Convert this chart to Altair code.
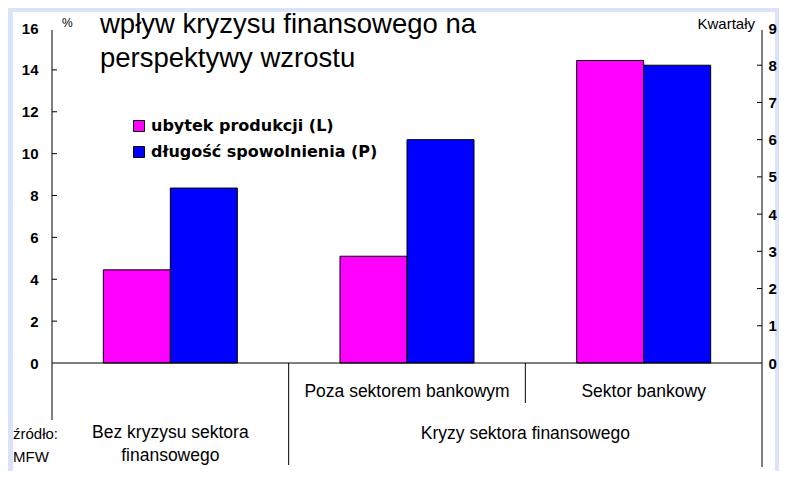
import altair as alt
import pandas as pd

# ---------------- data ----------------
categories = ["Bez kryzysu sektora finansowego", "Poza sektorem bankowym", "Sektor bankowy"]
series_names = ["ubytek produkcji (L)", "\u00a0długość spowolnienia (P)"]
loss_pct = [4.45, 5.1, 14.45]        # left axis, %
slowdown_q = [4.7, 6.0, 8.0]         # right axis, quarters
left_ticks = [0, 2, 4, 6, 8, 10, 12, 14, 16]
right_ticks = [0, 1, 2, 3, 4, 5, 6, 7, 8, 9]
left_inner_ticks = [2, 4, 6, 8, 10, 12, 14]
right_inner_ticks = [1, 2, 3, 4, 5, 6, 7, 8]
level1_labels = ["", "Poza sektorem bankowym", "Sektor bankowy"]
level2_left = "Bez kryzysu sektora\nfinansowego"
level2_right = "Kryzy sektora finansowego"
title_text = "wpływ kryzysu finansowego na\nperspektywy wzrostu"
source_text = "źródło:\nMFW"

FONT = "Liberation Sans"
W, H = 710, 335
LIGHT_BLUE = "#dae3f9"

df_L = pd.DataFrame({"cat": categories, "series": series_names[0], "value": loss_pct})
df_P = pd.DataFrame({"cat": categories, "series": series_names[1], "value": slowdown_q})
one = pd.DataFrame({"a": [0]})

x_scale = alt.Scale(domain=categories, paddingInner=0, paddingOuter=0)
xo_scale = alt.Scale(domain=series_names, paddingInner=0, paddingOuter=0.766)
color = alt.Color(
    "series:N",
    scale=alt.Scale(domain=series_names, range=["#FF00FF", "#0000FF"]),
    legend=alt.Legend(
        title=None, orient="none", legendX=79, legendY=90,
        symbolType="square", symbolSize=121, symbolStrokeColor="black",
        symbolStrokeWidth=1, symbolOpacity=1,
        labelFont="DejaVu Sans", labelFontSize=16, labelFontWeight="bold",
        labelColor="black", labelOffset=4, rowPadding=10, padding=0,
        labelLimit=400, zindex=2,
    ),
)

def X(**kw):
    return alt.X("cat:N", sort=categories, scale=x_scale, axis=None, **kw)

yL_scale = alt.Scale(domain=[0, 16], nice=False, zero=True)
yP_scale = alt.Scale(domain=[0, 9], nice=False, zero=True)

axis_common = dict(domain=False, ticks=False, grid=False, title=None,
                   labelFont=FONT, labelFontSize=15, labelFontWeight="bold",
                   labelColor="black", zindex=2)

# white panel
panel = alt.Chart(one).mark_rect(color="white").encode(
    x=alt.value(-39), x2=alt.value(723), y=alt.value(-16), y2=alt.value(460)
)

bars_L = alt.Chart(df_L).mark_bar(stroke="black", strokeWidth=1, opacity=1).encode(
    x=X(),
    xOffset=alt.XOffset("series:N", sort=series_names, scale=xo_scale),
    y=alt.Y("value:Q", scale=yL_scale,
            axis=alt.Axis(orient="left", values=left_ticks, labelPadding=14, **axis_common)),
    color=color,
)

bars_P = alt.Chart(df_P).mark_bar(stroke="black", strokeWidth=1, opacity=1).encode(
    x=X(),
    xOffset=alt.XOffset("series:N", sort=series_names, scale=xo_scale),
    y=alt.Y("value:Q", scale=yP_scale,
            axis=alt.Axis(orient="right", values=right_ticks, labelPadding=6, **axis_common)),
    color=color,
)

ticks_L = alt.Chart(pd.DataFrame({"v": left_inner_ticks})).mark_rule(color="black").encode(
    y=alt.Y("v:Q", scale=yL_scale, axis=None), x=alt.value(0), x2=alt.value(5)
)
ticks_P = alt.Chart(pd.DataFrame({"v": right_inner_ticks})).mark_rule(color="black").encode(
    y=alt.Y("v:Q", scale=yP_scale, axis=None), x=alt.value(W - 5), x2=alt.value(W)
)

baseline = alt.Chart(pd.DataFrame({"v": [0]})).mark_rule(color="black").encode(
    y=alt.Y("v:Q", scale=yL_scale, axis=None), x=alt.value(0), x2=alt.value(W)
)
axis_line_L = alt.Chart(one).mark_rule(color="black").encode(
    x=alt.value(0), y=alt.value(2), y2=alt.value(392)
)
axis_line_R = alt.Chart(one).mark_rule(color="black").encode(
    x=alt.value(W), y=alt.value(2), y2=alt.value(439)
)

sep1 = alt.Chart(pd.DataFrame({"cat": [categories[1]]})).mark_rule(color="black").encode(
    x=X(bandPosition=0), y=alt.value(H), y2=alt.value(437)
)
sep2 = alt.Chart(pd.DataFrame({"cat": [categories[2]]})).mark_rule(color="black").encode(
    x=X(bandPosition=0), y=alt.value(H), y2=alt.value(375)
)

lvl1 = alt.Chart(pd.DataFrame({"cat": categories, "t": level1_labels})).mark_text(
    font=FONT, fontSize=17.5, color="black", baseline="middle", align="center"
).encode(x=X(), y=alt.value(364), text="t:N")

lvl2a = alt.Chart(pd.DataFrame({"cat": [categories[0]], "t": [level2_left]})).mark_text(
    font=FONT, fontSize=17.5, color="black", baseline="alphabetic", align="center",
    lineBreak="\n", lineHeight=23
).encode(x=X(), y=alt.value(410), text="t:N")

lvl2b = alt.Chart(pd.DataFrame({"cat": [categories[2]], "t": [level2_right]})).mark_text(
    font=FONT, fontSize=17.5, color="black", baseline="alphabetic", align="center"
).encode(x=X(bandPosition=0), y=alt.value(411), text="t:N")

title = alt.Chart(pd.DataFrame({"t": [title_text]})).mark_text(
    font=FONT, fontSize=27.5, color="black", baseline="alphabetic", align="left",
    lineBreak="\n", lineHeight=34
).encode(x=alt.value(48), y=alt.value(5), text="t:N")

pct = alt.Chart(pd.DataFrame({"t": ["%"]})).mark_text(
    font=FONT, fontSize=12, color="black", baseline="alphabetic", align="left"
).encode(x=alt.value(10), y=alt.value(-1), text="t:N")

kw = alt.Chart(pd.DataFrame({"t": ["Kwartały"]})).mark_text(
    font=FONT, fontSize=15, color="black", baseline="alphabetic", align="right"
).encode(x=alt.value(703), y=alt.value(1), text="t:N")

src = alt.Chart(pd.DataFrame({"t": [source_text]})).mark_text(
    font=FONT, fontSize=15, color="black", baseline="alphabetic", align="left",
    lineBreak="\n", lineHeight=23
).encode(x=alt.value(-39), y=alt.value(411), text="t:N")

chart = alt.layer(
    panel, bars_L, bars_P, ticks_L, ticks_P, baseline, axis_line_L, axis_line_R,
    sep1, sep2, lvl1, lvl2a, lvl2b, title, pct, kw, src
).resolve_scale(y="independent").properties(
    width=W, height=H,
    background=LIGHT_BLUE,
    padding={"left": 44, "top": 20, "right": 17, "bottom": 108},
    autosize=alt.AutoSizeParams(type="none"),
).configure_view(stroke=None)

chart.save("out.html", embed_options={"renderer": "svg", "actions": False})
